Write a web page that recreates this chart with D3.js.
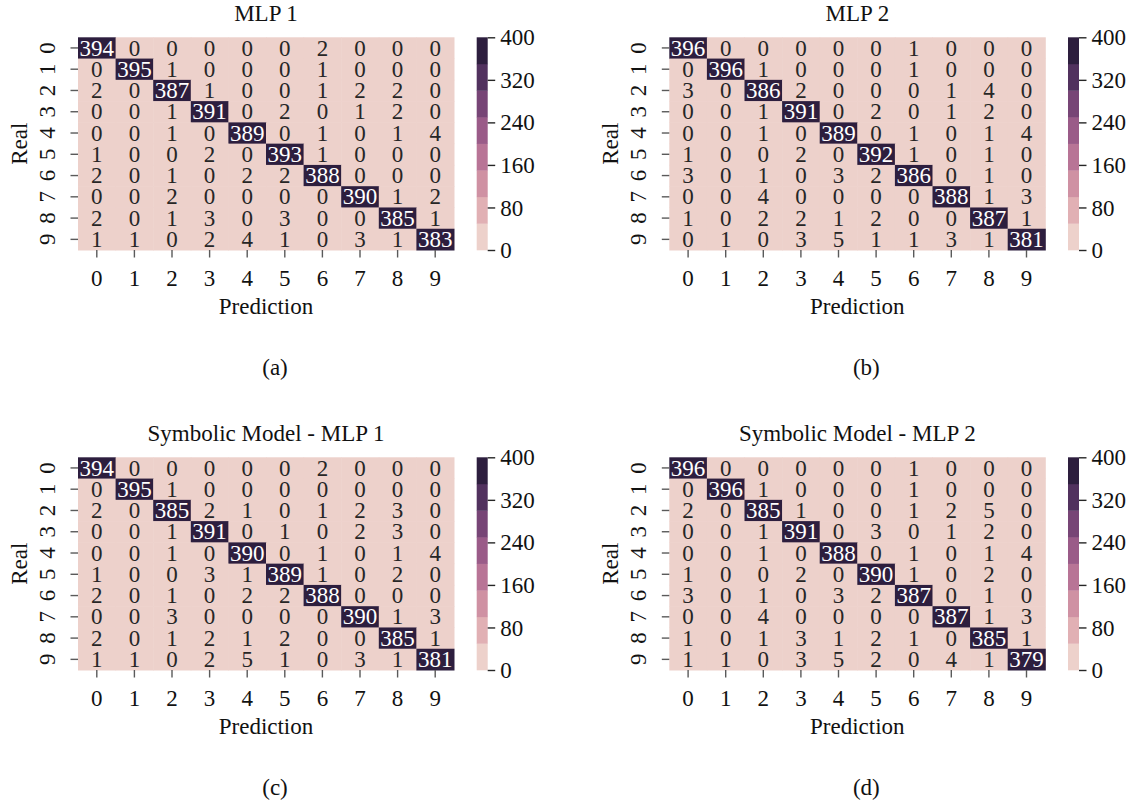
<!DOCTYPE html>
<html>
<head>
<meta charset="utf-8">
<script src="https://cdn.jsdelivr.net/npm/d3@7"></script>
<style>
  html, body { margin: 0; padding: 0; background: #fff; }
  svg { display: block; font-family: "Liberation Serif", "Times New Roman", serif; }
  svg text { font-family: "Liberation Serif", "Times New Roman", serif; }
</style>
</head>
<body>
<svg id="chart" width="1146" height="801"></svg>
<script>
// ---------- data ----------
const categories = ["0","1","2","3","4","5","6","7","8","9"];
const colorbarTicks = [0, 80, 160, 240, 320, 400];
const panelTitles = ["MLP 1", "MLP 2", "Symbolic Model - MLP 1", "Symbolic Model - MLP 2"];
const panelLabels = ["(a)", "(b)", "(c)", "(d)"];
const xLabel = "Prediction";
const yLabel = "Real";

const mlp1 = [
  [394,0,0,0,0,0,2,0,0,0],
  [0,395,1,0,0,0,1,0,0,0],
  [2,0,387,1,0,0,1,2,2,0],
  [0,0,1,391,0,2,0,1,2,0],
  [0,0,1,0,389,0,1,0,1,4],
  [1,0,0,2,0,393,1,0,0,0],
  [2,0,1,0,2,2,388,0,0,0],
  [0,0,2,0,0,0,0,390,1,2],
  [2,0,1,3,0,3,0,0,385,1],
  [1,1,0,2,4,1,0,3,1,383]
];
const mlp2 = [
  [396,0,0,0,0,0,1,0,0,0],
  [0,396,1,0,0,0,1,0,0,0],
  [3,0,386,2,0,0,0,1,4,0],
  [0,0,1,391,0,2,0,1,2,0],
  [0,0,1,0,389,0,1,0,1,4],
  [1,0,0,2,0,392,1,0,1,0],
  [3,0,1,0,3,2,386,0,1,0],
  [0,0,4,0,0,0,0,388,1,3],
  [1,0,2,2,1,2,0,0,387,1],
  [0,1,0,3,5,1,1,3,1,381]
];
const symMlp1 = [
  [394,0,0,0,0,0,2,0,0,0],
  [0,395,1,0,0,0,0,0,0,0],
  [2,0,385,2,1,0,1,2,3,0],
  [0,0,1,391,0,1,0,2,3,0],
  [0,0,1,0,390,0,1,0,1,4],
  [1,0,0,3,1,389,1,0,2,0],
  [2,0,1,0,2,2,388,0,0,0],
  [0,0,3,0,0,0,0,390,1,3],
  [2,0,1,2,1,2,0,0,385,1],
  [1,1,0,2,5,1,0,3,1,381]
];
const symMlp2 = [
  [396,0,0,0,0,0,1,0,0,0],
  [0,396,1,0,0,0,1,0,0,0],
  [2,0,385,1,0,0,1,2,5,0],
  [0,0,1,391,0,3,0,1,2,0],
  [0,0,1,0,388,0,1,0,1,4],
  [1,0,0,2,0,390,1,0,2,0],
  [3,0,1,0,3,2,387,0,1,0],
  [0,0,4,0,0,0,0,387,1,3],
  [1,0,1,3,1,2,1,0,385,1],
  [1,1,0,3,5,2,0,4,1,379]
];
const matrices = [mlp1, mlp2, symMlp1, symMlp2];

// ---------- colours: seaborn cubehelix_palette(8) ----------
function cubehelix(x, gamma=1, s=0, r=0.4, h=0.8) {
  const xg = Math.pow(x, gamma);
  const a = h * xg * (1 - xg) / 2;
  const phi = 2 * Math.PI * (s / 3 + r * x);
  const c = Math.cos(phi), sn = Math.sin(phi);
  const R = xg + a * (-0.14861 * c + 1.78277 * sn);
  const G = xg + a * (-0.29227 * c - 0.90649 * sn);
  const B = xg + a * (1.97294 * c);
  const cl = v => Math.max(0, Math.min(255, Math.round(v * 255)));
  return d3.rgb(cl(R), cl(G), cl(B)).formatHex();
}
const nColors = 8;
const palette = d3.range(nColors).map(i => cubehelix(0.85 + (0.15 - 0.85) * i / (nColors - 1)));
const vmin = 0, vmax = 400;
const colorScale = d3.scaleQuantize().domain([vmin, vmax]).range(palette);

// ---------- layout ----------
const svg = d3.select("#chart");
const FS = 23;
const offsets = [[0,0],[591.3,0],[0,420],[591.3,420]];
const hmLeft = 78, hmRight = 454, hmTop = 37.3, hmBottom = 250;
const cbLeft = 476.7, cbWidth = 11;
const tickColor = "#5a5a5a";
const textColor = "#111111";
const FONT = '"Liberation Serif", "Times New Roman", serif';

matrices.forEach((mat, p) => {
  const [ox, oy] = offsets[p];
  const g = svg.append("g").attr("transform", `translate(${ox},${oy})`);

  const x = d3.scaleBand().domain(categories).range([hmLeft, hmRight]).padding(0);
  const y = d3.scaleBand().domain(categories).range([hmTop, hmBottom]).padding(0);

  const cells = [];
  mat.forEach((row, i) => row.forEach((v, j) => cells.push({r: categories[i], c: categories[j], v})));

  g.append("g").selectAll("rect").data(cells).join("rect")
    .attr("x", d => x(d.c)).attr("y", d => y(d.r))
    .attr("width", x.bandwidth() + 0.5).attr("height", y.bandwidth() + 0.5)
    .attr("fill", d => colorScale(d.v));

  g.append("g").selectAll("text").data(cells).join("text")
    .attr("x", d => x(d.c) + x.bandwidth() / 2)
    .attr("y", d => y(d.r) + y.bandwidth() / 2)
    .attr("dy", "0.33em")
    .attr("text-anchor", "middle")
    .attr("font-size", FS)
    .attr("fill", d => d3.hsl(colorScale(d.v)).l < 0.5 ? "#ffffff" : "#262626")
    .text(d => d.v);

  // x axis
  const xa = g.append("g").attr("transform", `translate(0,${hmBottom})`)
    .call(d3.axisBottom(x).tickSize(7.5).tickSizeOuter(0))
    .attr("font-family", FONT).attr("font-size", FS);
  xa.select(".domain").remove();
  xa.selectAll(".tick line").attr("stroke", tickColor).attr("stroke-width", 1.4);
  xa.selectAll(".tick text").attr("y", 35.5).attr("dy", 0).attr("fill", textColor);

  // y axis
  const ya = g.append("g").attr("transform", `translate(${hmLeft},0)`)
    .call(d3.axisLeft(y).tickSize(7.5).tickSizeOuter(0))
    .attr("font-family", FONT).attr("font-size", FS);
  ya.select(".domain").remove();
  ya.selectAll(".tick line").attr("stroke", tickColor).attr("stroke-width", 1.4);
  ya.selectAll(".tick text")
    .attr("x", null).attr("dy", 0)
    .attr("text-anchor", "middle")
    .attr("transform", "translate(-23,0) rotate(-90)")
    .attr("fill", textColor);

  // titles & labels
  const cx = (hmLeft + hmRight) / 2;
  g.append("text").attr("x", cx).attr("y", 21).attr("text-anchor", "middle")
    .attr("font-size", FS).attr("fill", textColor).text(panelTitles[p]);
  g.append("text").attr("x", cx).attr("y", 314).attr("text-anchor", "middle")
    .attr("font-size", FS).attr("fill", textColor).text(xLabel);
  g.append("text").attr("transform", `translate(26.5,${(hmTop + hmBottom) / 2}) rotate(-90)`)
    .attr("text-anchor", "middle").attr("font-size", FS).attr("fill", textColor).text(yLabel);
  g.append("text").attr("x", 275).attr("y", 375).attr("text-anchor", "middle")
    .attr("font-size", FS).attr("fill", textColor).text(panelLabels[p]);

  // colorbar
  const cy = d3.scaleLinear().domain([vmin, vmax]).range([hmBottom, hmTop]);
  const bins = palette.map((col, i) => ({lo: vmin + (vmax - vmin) * i / nColors, hi: vmin + (vmax - vmin) * (i + 1) / nColors, col}));
  g.append("g").selectAll("rect").data(bins).join("rect")
    .attr("x", cbLeft).attr("width", cbWidth)
    .attr("y", d => cy(d.hi)).attr("height", d => cy(d.lo) - cy(d.hi) + 0.3)
    .attr("fill", d => d.col);
  const ca = g.append("g").attr("transform", `translate(${cbLeft + cbWidth},0)`)
    .call(d3.axisRight(cy).tickValues(colorbarTicks).tickSize(7.5).tickPadding(5).tickSizeOuter(0))
    .attr("font-family", FONT).attr("font-size", FS);
  ca.select(".domain").remove();
  ca.selectAll(".tick line").attr("stroke", "#262626").attr("stroke-width", 1.4);
  ca.selectAll(".tick text").attr("fill", textColor).attr("dy", "0.33em");
});
</script>
</body>
</html>
